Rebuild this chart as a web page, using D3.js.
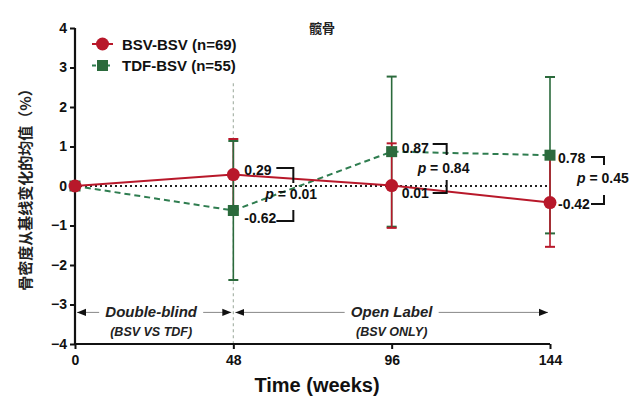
<!DOCTYPE html>
<html><head><meta charset="utf-8">
<script src="https://cdn.jsdelivr.net/npm/d3@7"></script>
<style>
html,body{margin:0;padding:0;background:#fff;}
text{font-family:"Liberation Sans",Arial,sans-serif;}
</style></head>
<body>
<svg id="chart" width="641" height="406"></svg>
<script>
const weeks = [0, 48, 96, 144];
const xTicks = [0, 48, 96, 144];
const yTicks = [-4, -3, -2, -1, 0, 1, 2, 3, 4];
const bsvMean = [0, 0.29, 0.01, -0.42];
const bsvErr  = [0, 0.90, 1.07, 1.12];
const tdfMean = [0, -0.62, 0.87, 0.78];
const tdfErr  = [0, 1.76, 1.90, 1.98];
const seriesNames = ["BSV-BSV (n=69)", "TDF-BSV (n=55)"];
const pValues = ["0.01", "0.84", "0.45"];
const title = "髋骨";
const yLabel = "骨密度从基线变化的均值（%）";
const xLabel = "Time (weeks)";
const phases = [
  {from: 0, to: 48, name: "Double-blind", sub: "(BSV VS TDF)"},
  {from: 48, to: 144, name: "Open Label", sub: "(BSV ONLY)"}
];

const RED = "#b8182a", GREEN = "#2b6a3c", GREEN_LINE = "#2f7d50";
const svg = d3.select("#chart");
const x = d3.scaleLinear().domain([0, 144]).range([75, 550]);
const y = d3.scaleLinear().domain([-4, 4]).range([344, 28]);

const defs = svg.append("defs");
defs.append("marker").attr("id","arr").attr("viewBox","0 0 10 10").attr("refX",10).attr("refY",5)
  .attr("markerWidth",9).attr("markerHeight",9).attr("markerUnits","userSpaceOnUse").attr("orient","auto-start-reverse")
  .append("path").attr("d","M0,1 L10,5 L0,9 Z").attr("fill","#111");

// vertical dotted line at week 48
svg.append("line").attr("x1", x(48)).attr("x2", x(48)).attr("y1", y(2.6)).attr("y2", y(-4))
  .attr("stroke","#a9b5a9").attr("stroke-width",1.2).attr("stroke-dasharray","3,3");

// zero dotted line
svg.append("line").attr("x1", x(0)).attr("x2", x(144)).attr("y1", y(0)).attr("y2", y(0))
  .attr("stroke","#222").attr("stroke-width",2).attr("stroke-dasharray","2,3");

// axes
const yAxis = svg.append("g").attr("transform",`translate(${x(0)},0)`)
  .call(d3.axisLeft(y).tickValues(yTicks).tickSize(5).tickPadding(3).tickFormat(d3.format("d")));
const xAxis = svg.append("g").attr("transform",`translate(0,${y(-4)})`)
  .call(d3.axisBottom(x).tickValues(xTicks).tickSize(5).tickPadding(6));
[yAxis, xAxis].forEach(g => {
  g.select(".domain").attr("stroke","#111").attr("stroke-width",2.2);
  g.selectAll(".tick line").attr("stroke","#111").attr("stroke-width",2);
  g.selectAll(".tick text").attr("fill","#111").attr("font-size",14).attr("font-weight","bold")
    .style("font-family","'Liberation Sans',Arial,sans-serif");
});
xAxis.selectAll(".domain").attr("d", `M${x(0)},0H${x(144)}`);
yAxis.selectAll(".domain").attr("d", `M0,${y(4)}V${y(-4)}`);

// phase arrows
phases.forEach(p => {
  const cx = (x(p.from) + x(p.to)) / 2 - (p.from === 0 ? 3 : 0);
  const ly = y(-3.2);
  const tw = p.name === "Double-blind" ? 96 : 86;
  svg.append("line").attr("x1", x(p.from) + 2).attr("x2", cx - tw/2 - 4).attr("y1", ly).attr("y2", ly)
    .attr("stroke","#888").attr("stroke-width",1).attr("marker-start","url(#arr)");
  svg.append("line").attr("x1", cx + tw/2 + 4).attr("x2", x(p.to) - 2).attr("y1", ly).attr("y2", ly)
    .attr("stroke","#888").attr("stroke-width",1).attr("marker-end","url(#arr)");
  svg.append("text").attr("x", cx).attr("y", ly + 5).attr("text-anchor","middle")
    .attr("font-size",15).attr("font-weight","bold").attr("font-style","italic").attr("fill","#222").text(p.name);
  svg.append("text").attr("x", cx).attr("y", ly + 24).attr("text-anchor","middle")
    .attr("font-size",12.5).attr("font-weight","bold").attr("font-style","italic").attr("fill","#222").text(p.sub);
});

// error bars
function errBars(mean, err, color, idxs) {
  const g = svg.append("g").attr("stroke", color).attr("stroke-width",1.6);
  idxs.forEach(i => {
    if (err[i] === 0) return;
    const cx = x(weeks[i]);
    g.append("line").attr("x1",cx).attr("x2",cx).attr("y1",y(mean[i]-err[i])).attr("y2",y(mean[i]+err[i]));
    [mean[i]-err[i], mean[i]+err[i]].forEach(v =>
      g.append("line").attr("x1",cx-5).attr("x2",cx+5).attr("y1",y(v)).attr("y2",y(v)).attr("stroke-width",2));
  });
}
errBars(bsvMean, bsvErr, RED, [1]);
errBars(tdfMean, tdfErr, GREEN, [1,2,3]);
errBars(bsvMean, bsvErr, RED, [2,3]);

const line = d3.line().x((d,i) => x(weeks[i])).y(d => y(d));
svg.append("path").datum(tdfMean).attr("d", line).attr("fill","none")
  .attr("stroke",GREEN_LINE).attr("stroke-width",2).attr("stroke-dasharray","6,4");
svg.append("path").datum(bsvMean).attr("d", line).attr("fill","none")
  .attr("stroke",RED).attr("stroke-width",2);

svg.append("g").selectAll("rect").data(tdfMean).join("rect")
  .attr("x",(d,i)=>x(weeks[i])-5.5).attr("y",d=>y(d)-5.5).attr("width",11).attr("height",11).attr("fill",GREEN);
svg.append("g").selectAll("circle").data(bsvMean).join("circle")
  .attr("cx",(d,i)=>x(weeks[i])).attr("cy",d=>y(d)).attr("r",6.5).attr("fill",RED);

// annotations
const ann = [
  {i:1, tx:11, topY:170, botY:218, bx:60, bl:17, pY:194, px:32, topTick:[168,183], botTick:[210,221]},
  {i:2, tx:10, topY:148, botY:193, bx:55, bl:14, pY:168, px:26, topTick:[144,155], botTick:[180,193]},
  {i:3, tx:8,  topY:158, botY:204, bx:54, bl:13, pY:178, px:27, topTick:[157,165], botTick:[195,204]}
];
const fmt = v => (v < 0 ? "-" : "") + Math.abs(v).toFixed(2);
ann.forEach((a, k) => {
  const cx = x(weeks[a.i]);
  const hi = Math.max(bsvMean[a.i], tdfMean[a.i]);
  const lo = Math.min(bsvMean[a.i], tdfMean[a.i]);
  const t = (yy, v) => svg.append("text").attr("x", cx + a.tx).attr("y", yy + 5)
    .attr("font-size",14).attr("font-weight","bold").attr("fill","#111").text(fmt(v));
  t(a.topY, hi); t(a.botY, lo);
  const bxx = cx + a.bx;
  svg.append("path").attr("d", `M${bxx - a.bl},${a.topTick[0]}H${bxx}V${a.topTick[1]}`)
    .attr("fill","none").attr("stroke","#111").attr("stroke-width",2);
  svg.append("path").attr("d", `M${bxx - a.bl},${a.botTick[1]}H${bxx}V${a.botTick[0]}`)
    .attr("fill","none").attr("stroke","#111").attr("stroke-width",2);
  const pt = svg.append("text").attr("x", cx + a.px).attr("y", a.pY + 5)
    .attr("font-size",14).attr("font-weight","bold").attr("fill","#111");
  pt.append("tspan").attr("font-style","italic").text("p");
  pt.append("tspan").text(" = " + pValues[k]);
});

// legend
const leg = [{c:RED, shape:"circle", dash:null}, {c:GREEN, shape:"rect", dash:"4,3"}];
leg.forEach((l, k) => {
  const ly = 44 + k * 21.5;
  svg.append("line").attr("x1",92).attr("x2",113).attr("y1",ly).attr("y2",ly)
    .attr("stroke", k === 0 ? RED : GREEN_LINE).attr("stroke-width",2).attr("stroke-dasharray", l.dash);
  if (l.shape === "circle") svg.append("circle").attr("cx",102.5).attr("cy",ly).attr("r",6.5).attr("fill",l.c);
  else svg.append("rect").attr("x",97).attr("y",ly-5.5).attr("width",11).attr("height",11).attr("fill",l.c);
  svg.append("text").attr("x",122).attr("y",ly+5.5).attr("font-size",15).attr("font-weight","bold")
    .attr("fill","#111").text(seriesNames[k]);
});

// titles
svg.append("text").attr("x",322).attr("y",33).attr("text-anchor","middle").attr("font-size",13)
  .attr("font-weight","bold").style("font-family","'Noto Sans CJK SC',sans-serif").attr("fill","#222").text(title);
svg.append("text").attr("transform",`translate(31,${y(0)}) rotate(-90)`).attr("text-anchor","middle")
  .attr("font-size",15).attr("font-weight","bold").style("font-family","'Noto Sans CJK SC',sans-serif").attr("fill","#222").text(yLabel);
svg.append("text").attr("x",317).attr("y",392).attr("text-anchor","middle").attr("font-size",20)
  .attr("font-weight","bold").attr("fill","#111").text(xLabel);
</script>
</body></html>
